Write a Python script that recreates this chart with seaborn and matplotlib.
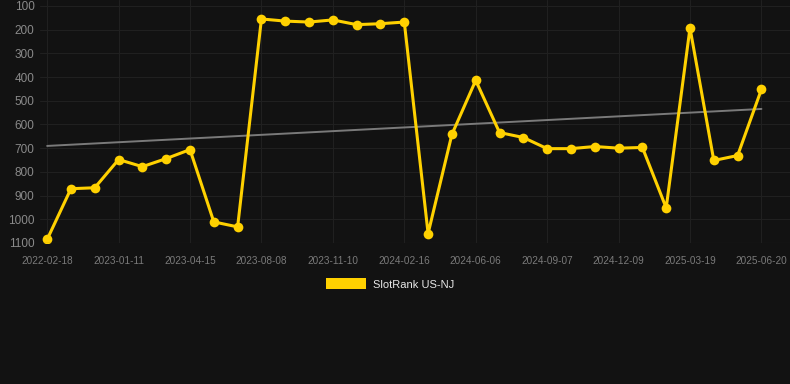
import numpy as np
import pandas as pd
import matplotlib
matplotlib.use("Agg")
import matplotlib.pyplot as plt
import seaborn as sns
from matplotlib.patches import Patch

# -----------------------------
# Data
# -----------------------------
# one point per snapshot, evenly spaced; only every third date is labelled
ranks = [
    1085, 871, 867, 748, 778, 744, 706, 1011, 1032,
    155, 164, 168, 159, 179, 175, 168,
    1060, 642, 414, 634, 655, 702, 702, 693, 700, 697,
    952, 193, 752, 731, 452,
]
tick_labels = [
    "2022-02-18", "2023-01-11", "2023-04-15", "2023-08-08", "2023-11-10",
    "2024-02-16", "2024-06-06", "2024-09-07", "2024-12-09", "2025-03-19",
    "2025-06-20",
]
y_ticks = list(range(100, 1200, 100))
series_name = "SlotRank US-NJ"

df = pd.DataFrame({"idx": np.arange(len(ranks)), "rank": ranks})

# trend line (least squares over the series)
slope, intercept = np.polyfit(df["idx"], df["rank"], 1)
df["trend"] = intercept + slope * df["idx"]

# -----------------------------
# Plot
# -----------------------------
bg = "#121212"
gold = "#FFD100"
sns.set_style("dark")
plt.rcParams["font.family"] = ["Liberation Sans", "DejaVu Sans"]

fig = plt.figure(figsize=(7.9, 3.84), dpi=100, facecolor=bg)
ax = fig.add_axes([40 / 790, 141 / 384, 750 / 790, 243 / 384])
ax.set_facecolor(bg)

sns.lineplot(data=df, x="idx", y="trend", ax=ax, color="#7a7a7a", linewidth=1.4)
sns.lineplot(data=df, x="idx", y="rank", ax=ax, color=gold, linewidth=2.2,
             marker="o", markersize=7, markeredgewidth=0)

ax.set_ylim(1100, 75)
ax.set_xlim(-0.3, 31.2)
ax.set_yticks(y_ticks)
ax.set_xticks(df["idx"][::3])
ax.set_xticklabels(tick_labels)
ax.tick_params(axis="y", colors="#8a8a8a", labelsize=8.5, length=0, pad=4)
ax.tick_params(axis="x", colors="#7a7a7a", labelsize=7.2, length=0, pad=9)
ax.grid(True, color="#202020", linewidth=0.8)
ax.set_xlabel("")
ax.set_ylabel("")
for s in ax.spines.values():
    s.set_visible(False)
ax.axhline(1100, color="#2a2a2a", linewidth=0.8)

fig.legend(handles=[Patch(facecolor=gold, edgecolor="none", label=series_name)],
           loc="center", bbox_to_anchor=(390 / 790, 1 - 284 / 384),
           frameon=False, fontsize=8, labelcolor="#e6e6e6",
           handlelength=3.6, handleheight=1.1, handletextpad=0.6)

fig.savefig("out.png", dpi=100, facecolor=bg)
